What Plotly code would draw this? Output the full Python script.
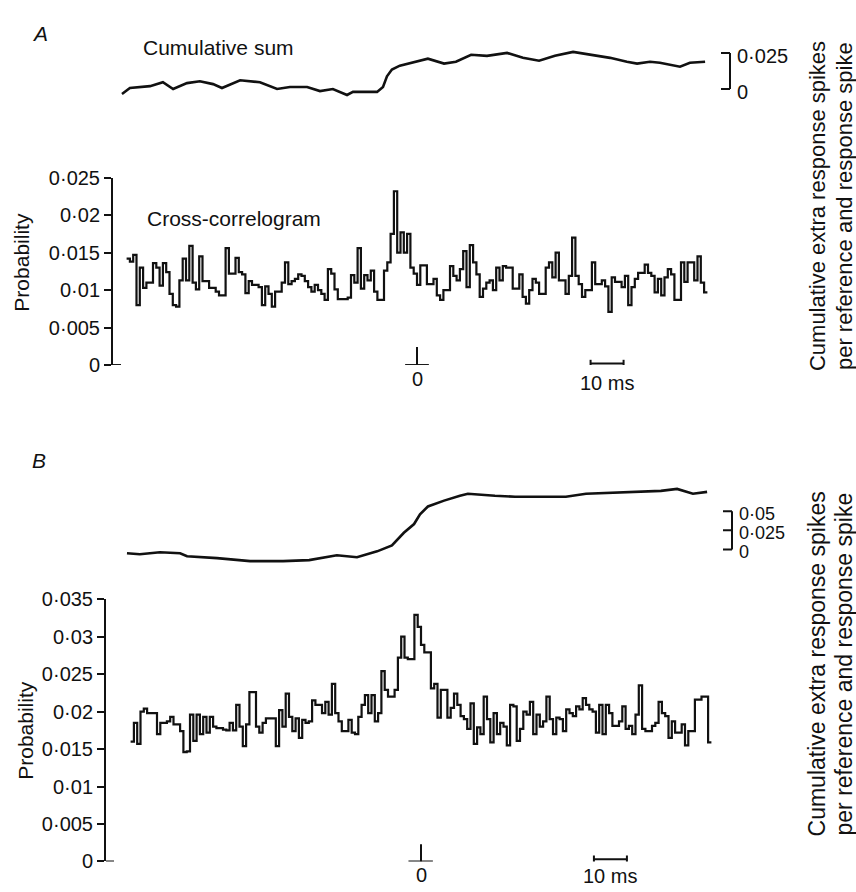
import plotly.graph_objects as go

# ---------------- data ----------------
# left bin edges in ms (1 ms bins)
lag_ms = list(range(-88, 88))

# Panel A cross-correlogram (probability per bin)
prob_a = [
    0.0142, 0.0138, 0.0147, 0.0080, 0.0130, 0.0103, 0.0110, 0.0110, 0.0136, 0.0130,
    0.0106, 0.0136, 0.0124, 0.0095, 0.0080, 0.0078, 0.0113, 0.0142, 0.0113, 0.0159,
    0.0110, 0.0101, 0.0145, 0.0112, 0.0112, 0.0103, 0.0103, 0.0098, 0.0093, 0.0093,
    0.0156, 0.0122, 0.0122, 0.0143, 0.0124, 0.0121, 0.0096, 0.0112, 0.0107, 0.0107,
    0.0104, 0.0080, 0.0105, 0.0095, 0.0078, 0.0098, 0.0098, 0.0110, 0.0137, 0.0108,
    0.0112, 0.0115, 0.0121, 0.0119, 0.0112, 0.0104, 0.0098, 0.0107, 0.0100, 0.0095,
    0.0087, 0.0128, 0.0122, 0.0101, 0.0088, 0.0088, 0.0088, 0.0090, 0.0120, 0.0110,
    0.0156, 0.0102, 0.0120, 0.0113, 0.0126, 0.0098, 0.0087, 0.0087, 0.0126, 0.0137,
    0.0175, 0.0232, 0.0150, 0.0177, 0.0150,
    0.0175, 0.0130, 0.0122, 0.0107, 0.0133, 0.0133, 0.0108,
    0.0108, 0.0115, 0.0093, 0.0087, 0.0100, 0.0100, 0.0132, 0.0119, 0.0113, 0.0128,
    0.0152, 0.0104, 0.0160, 0.0137, 0.0121, 0.0091, 0.0102, 0.0110, 0.0113, 0.0100,
    0.0130, 0.0113, 0.0132, 0.0130, 0.0130, 0.0102, 0.0102, 0.0121, 0.0091, 0.0082,
    0.0100, 0.0115, 0.0110, 0.0095, 0.0095, 0.0130, 0.0137, 0.0117, 0.0150, 0.0113,
    0.0113, 0.0095, 0.0119, 0.0170, 0.0119, 0.0108, 0.0091, 0.0100, 0.0100, 0.0137,
    0.0108, 0.0108, 0.0113, 0.0105, 0.0071, 0.0117, 0.0111, 0.0111, 0.0104, 0.0119,
    0.0080, 0.0104, 0.0115, 0.0123, 0.0123, 0.0134, 0.0123, 0.0119, 0.0097, 0.0115,
    0.0093, 0.0117, 0.0128, 0.0121, 0.0087, 0.0087, 0.0137, 0.0111, 0.0137, 0.0137,
    0.0113, 0.0145, 0.0110, 0.0097,
]

# Panel B cross-correlogram
prob_b = [
    0.0160, 0.0185, 0.0157, 0.0200, 0.0204, 0.0198, 0.0198, 0.0198, 0.0170, 0.0185,
    0.0185, 0.0187, 0.0193, 0.0183, 0.0183, 0.0174, 0.0146, 0.0147, 0.0196, 0.0161,
    0.0196, 0.0170, 0.0193, 0.0172, 0.0193, 0.0180, 0.0178, 0.0178, 0.0176, 0.0175,
    0.0185, 0.0175, 0.0209, 0.0180, 0.0154, 0.0183, 0.0226, 0.0226, 0.0180, 0.0172,
    0.0185, 0.0191, 0.0191, 0.0191, 0.0154, 0.0202, 0.0180, 0.0224, 0.0193, 0.0174,
    0.0191, 0.0165, 0.0189, 0.0185, 0.0187, 0.0215, 0.0209, 0.0209, 0.0198, 0.0213,
    0.0196, 0.0237, 0.0198, 0.0187, 0.0174, 0.0174, 0.0189, 0.0172, 0.0170, 0.0193,
    0.0209, 0.0222, 0.0198, 0.0222, 0.0187, 0.0198, 0.0254, 0.0229, 0.0220, 0.0220,
    0.0229, 0.0272, 0.0300, 0.0272, 0.0270, 0.0270, 0.0329, 0.0313,
    0.0289, 0.0279, 0.0279, 0.0231, 0.0237, 0.0192, 0.0229, 0.0229, 0.0192, 0.0205,
    0.0224, 0.0209, 0.0194, 0.0190, 0.0177, 0.0211, 0.0157, 0.0179, 0.0170, 0.0220,
    0.0190, 0.0159, 0.0198, 0.0170, 0.0185, 0.0180, 0.0155, 0.0209, 0.0207, 0.0161,
    0.0177, 0.0200, 0.0196, 0.0213, 0.0170, 0.0196, 0.0180, 0.0187, 0.0220, 0.0190,
    0.0170, 0.0192, 0.0190, 0.0174, 0.0203, 0.0198, 0.0194, 0.0207, 0.0203, 0.0218,
    0.0209, 0.0203, 0.0200, 0.0172, 0.0209, 0.0170, 0.0209, 0.0198, 0.0181, 0.0181,
    0.0187, 0.0207, 0.0177, 0.0181, 0.0170, 0.0196, 0.0235, 0.0177, 0.0174, 0.0174,
    0.0181, 0.0185, 0.0213, 0.0198, 0.0194, 0.0165, 0.0187, 0.0172, 0.0172, 0.0183,
    0.0155, 0.0174, 0.0174, 0.0216, 0.0216, 0.0220, 0.0220, 0.0159,
]

# Cumulative sums (extra response spikes per reference spike)
cum_a_ms = [-89.4, -87.0, -80.9, -77.0, -73.9, -69.7, -65.8, -61.8, -59.1, -53.6,
            -47.6, -42.4, -38.5, -33.3, -29.4, -25.5, -21.2, -19.4, -12.1, -10.3,
            -9.1, -7.6, -5.2, -0.3, 3.3, 8.2, 11.8, 16.4, 21.2, 27.3,
            32.1, 37.0, 41.8, 47.3, 52.4, 58.5, 63.6, 66.7, 70.6, 73.6,
            79.7, 82.7, 87.3]
cum_a = [-0.0034, 0.0007, 0.0020, 0.0047, 0.0000, 0.0041, 0.0054, 0.0034, 0.0007, 0.0061,
         0.0047, 0.0000, 0.0014, 0.0014, -0.0014, 0.0000, -0.0041, -0.0020, -0.0020, 0.0014,
         0.0088, 0.0135, 0.0162, 0.0189, 0.0210, 0.0176, 0.0189, 0.0237, 0.0230, 0.0250,
         0.0216, 0.0196, 0.0230, 0.0257, 0.0237, 0.0216, 0.0189, 0.0176, 0.0189, 0.0182,
         0.0155, 0.0182, 0.0189]

cum_b_ms = [-89.1, -85.2, -79.1, -73.0, -70.9, -61.8, -51.8, -41.8, -33.9, -25.5,
            -19.4, -13.3, -8.8, -5.2, -2.1, -0.3, 2.1, 7.0, 11.8, 14.2,
            22.4, 28.5, 34.5, 43.9, 50.0, 58.5, 67.0, 72.7, 77.6, 82.4, 86.7]
cum_b = [-0.0051, -0.0064, -0.0038, -0.0051, -0.0090, -0.0115, -0.0154, -0.0154, -0.0141, -0.0077,
         -0.0103, -0.0026, 0.0051, 0.0218, 0.0333, 0.0462, 0.0564, 0.0641, 0.0705, 0.0731,
         0.0705, 0.0692, 0.0692, 0.0692, 0.0731, 0.0744, 0.0756, 0.0769, 0.0795, 0.0731, 0.0756]

prob_ticks_a = [0, 0.005, 0.01, 0.015, 0.02, 0.025]
prob_ticks_b = [0, 0.005, 0.01, 0.015, 0.02, 0.025, 0.03, 0.035]
cum_scale_a = [0, 0.025]
cum_scale_b = [0, 0.025, 0.05]
scale_bar_ms = 10


def lab(v):
    s = ("%g" % v)
    return s.replace(".", "\u00b7")


# ---------------- layout helpers ----------------
W, H = 856, 892
FONT = "Liberation Sans, Arial, sans-serif"
BLACK = "#111111"


def px(x):
    return x / W


def py(y):
    return 1 - y / H


PPMS = 3.3  # pixels per ms
ZERO_A, ZERO_B = 417, 421
XA = (113, 714)
XB = (106, 718)

edges = lag_ms + [lag_ms[-1] + 1]

fig = go.Figure()
fig.add_trace(go.Scatter(x=edges, y=prob_a + [prob_a[-1]], mode="lines",
                         line=dict(shape="hv", color=BLACK, width=2.2),
                         xaxis="x", yaxis="y", hoverinfo="skip"))
fig.add_trace(go.Scatter(x=edges, y=prob_b + [prob_b[-1]], mode="lines",
                         line=dict(shape="hv", color=BLACK, width=2.2),
                         xaxis="x2", yaxis="y2", hoverinfo="skip"))
fig.add_trace(go.Scatter(x=cum_a_ms, y=cum_a, mode="lines",
                         line=dict(color=BLACK, width=2.6),
                         xaxis="x", yaxis="y3", hoverinfo="skip"))
fig.add_trace(go.Scatter(x=cum_b_ms, y=cum_b, mode="lines",
                         line=dict(color=BLACK, width=2.6),
                         xaxis="x2", yaxis="y4", hoverinfo="skip"))

hidden_x = dict(showline=False, showticklabels=False, showgrid=False,
                zeroline=False, ticks="")
prob_axis = dict(showline=True, linecolor=BLACK, linewidth=2, ticks="outside",
                 ticklen=7, tickwidth=2, tickcolor=BLACK, showgrid=False,
                 zeroline=False, tickfont=dict(family=FONT, size=20, color=BLACK))

# cumulative-sum axis calibration (pixel rows of the scale-bar ends)
A0, A25 = 80, 43      # y pixel of 0 and 0.025 in panel A
B0, B50 = 552, 513    # y pixel of 0 and 0.05 in panel B
a_top, a_bot = 20, 105
b_top, b_bot = 470, 585
a_k = 0.025 / (A0 - A25)
b_k = 0.05 / (B0 - B50)

fig.update_layout(
    width=W, height=H, margin=dict(l=0, r=0, t=0, b=0),
    paper_bgcolor="white", plot_bgcolor="rgba(0,0,0,0)", showlegend=False,
    xaxis=dict(domain=[px(XA[0]), px(XA[1])],
               range=[(XA[0] - ZERO_A) / PPMS, (XA[1] - ZERO_A) / PPMS],
               anchor="y", **hidden_x),
    yaxis=dict(domain=[py(363), py(171)], range=[0, 0.025], anchor="x",
               tickvals=prob_ticks_a, ticktext=[lab(v) for v in prob_ticks_a],
               **prob_axis),
    xaxis2=dict(domain=[px(XB[0]), px(XB[1])],
                range=[(XB[0] - ZERO_B) / PPMS, (XB[1] - ZERO_B) / PPMS],
                anchor="y2", **hidden_x),
    yaxis2=dict(domain=[py(872), py(603)], range=[0, 0.035], anchor="x2",
                tickvals=prob_ticks_b, ticktext=[lab(v) for v in prob_ticks_b],
                **prob_axis),
    yaxis3=dict(domain=[py(a_bot), py(a_top)],
                range=[(A0 - a_bot) * a_k, (A0 - a_top) * a_k],
                anchor="x", visible=False),
    yaxis4=dict(domain=[py(b_bot), py(b_top)],
                range=[(B0 - b_bot) * b_k, (B0 - b_top) * b_k],
                anchor="x2", visible=False),
)

shapes = []
line_style = dict(color=BLACK, width=2)


def seg(xref, yref, x0, y0, x1, y1):
    shapes.append(dict(type="line", xref=xref, yref=yref, x0=x0, y0=y0,
                       x1=x1, y1=y1, line=line_style))


# small foot at the bottom of the probability axes
seg("paper", "y", px(XA[0]), 0, px(XA[0] + 8), 0)
seg("paper", "y2", px(XB[0]), 0, px(XB[0] + 8), 0)

# zero-lag markers
seg("x", "y", 0, 0, 0, 0.0024)
seg("x", "y", -3.6, 0, 3.6, 0)
seg("x2", "y2", 0, 0, 0, 0.0023)
seg("x2", "y2", -3.8, 0, 3.6, 0)

# 10 ms scale bars
for xr, yr, x0, yy, cap in (("x", "y", 52.6, 0.0002, 0.0005), ("x2", "y2", 52.4, 0.0003, 0.0005)):
    seg(xr, yr, x0, yy, x0 + scale_bar_ms, yy)
    seg(xr, yr, x0, yy - cap, x0, yy + cap)
    seg(xr, yr, x0 + scale_bar_ms, yy - cap, x0 + scale_bar_ms, yy + cap)

# cumulative-sum scale brackets
seg("paper", "y3", px(730), cum_scale_a[0], px(730), cum_scale_a[-1])
for v in cum_scale_a:
    seg("paper", "y3", px(721), v, px(730), v)
seg("paper", "y4", px(732), cum_scale_b[0], px(732), cum_scale_b[-1])
for v in cum_scale_b:
    seg("paper", "y4", px(723), v, px(732), v)

fig.update_layout(shapes=shapes)

ann = []


def text(t, x, y, xref="paper", yref="paper", xanchor="center", yanchor="middle",
         angle=0, size=21, yshift=0):
    ann.append(dict(text=t, x=x, y=y, xref=xref, yref=yref, xanchor=xanchor,
                    yanchor=yanchor, textangle=angle, showarrow=False,
                    yshift=yshift, borderpad=0,
                    font=dict(family=FONT, size=size, color=BLACK)))


text("<i>A</i>", px(31), py(23), xanchor="left", size=21)
text("<i>B</i>", px(31), py(461), xanchor="left", size=21)
text("Cumulative sum", px(142), py(37), xanchor="left")
text("Cross-correlogram", px(146), py(213), xanchor="left")
text("Probability", px(22), py(258), angle=-90)
text("Probability", px(26), py(738), angle=-90)

# zero and 10 ms labels
text("0", 0, 0, xref="x", yref="y", yanchor="top", yshift=-2, size=20)
text("10 ms", 52.6 + scale_bar_ms / 2, 0, xref="x", yref="y", yanchor="top", yshift=-6, size=20)
text("0", 0, 0, xref="x2", yref="y2", yanchor="top", yshift=-2, size=20)
text("10 ms", 52.4 + scale_bar_ms / 2, 0, xref="x2", yref="y2", yanchor="top", yshift=-3, size=20)

# bracket labels
for v in cum_scale_a:
    text(lab(v), px(736), v, yref="y3", xanchor="left", yshift=-3, size=20)
for v in cum_scale_b:
    text(lab(v), px(738), v, yref="y4", xanchor="left", yshift=-3, size=18)

# right-hand titles
for cy, fs in ((200, 22), (670, 23)):
    text("Cumulative extra response spikes", px(817), py(cy), angle=-90, size=fs)
    text("per reference and response spike", px(844), py(cy), angle=-90, size=fs)

fig.update_layout(annotations=ann)

fig.write_html("out.html", config={"displayModeBar": False},
               post_script="document.body.style.margin='0';document.body.style.overflow='hidden';")
